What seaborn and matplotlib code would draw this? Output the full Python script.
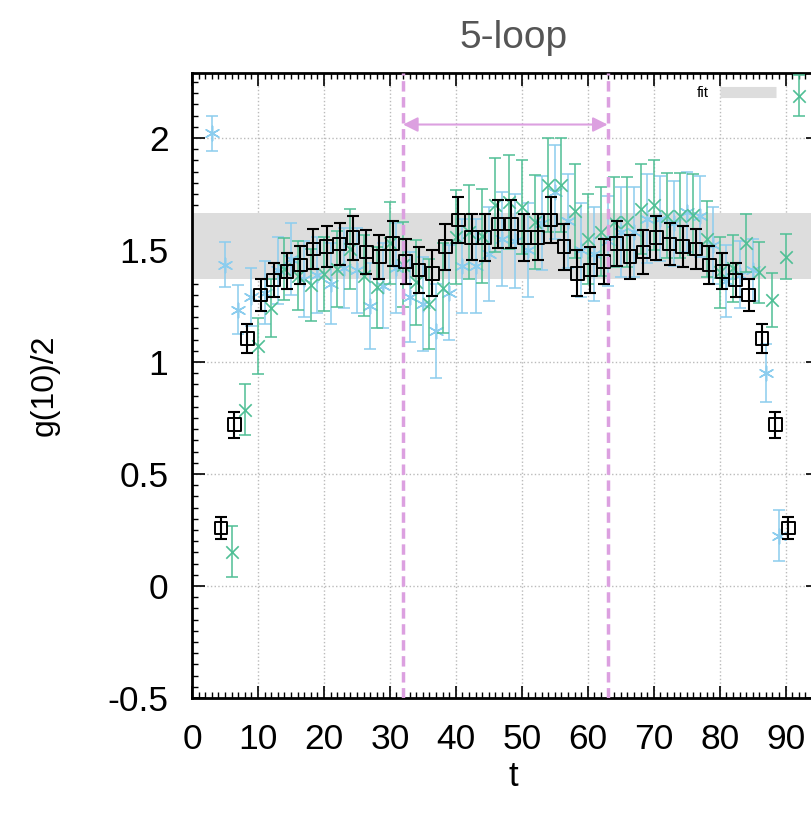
import numpy as np
import pandas as pd
import matplotlib
matplotlib.use('Agg')
import matplotlib.pyplot as plt
from matplotlib.lines import Line2D
from matplotlib.ticker import MultipleLocator
import seaborn as sns

# ---- data ----
# black squares (even t, drawn slightly shifted)
t_sq = [4.4, 6.4, 8.4, 10.4, 12.4, 14.4, 16.4, 18.4, 20.4, 22.4, 24.4,
        26.4, 28.4, 30.4, 32.4, 34.4, 36.4, 38.4, 40.4, 42.4, 44.4, 46.4,
        48.4, 50.4, 52.4, 54.4, 56.4, 58.4, 60.4, 62.4, 64.4, 66.4, 68.4,
        70.4, 72.4, 74.4, 76.4, 78.4, 80.4, 82.4, 84.4, 86.4, 88.4, 90.4]
g_sq = [0.259, 0.720, 1.106, 1.299, 1.366, 1.405, 1.433, 1.504, 1.515, 1.527, 1.555,
        1.491, 1.470, 1.530, 1.450, 1.411, 1.396, 1.515, 1.634, 1.557, 1.557, 1.616,
        1.616, 1.557, 1.557, 1.634, 1.515, 1.396, 1.411, 1.450, 1.530, 1.470, 1.491,
        1.555, 1.527, 1.515, 1.504, 1.433, 1.405, 1.366, 1.299, 1.106, 0.720, 0.259]
e_sq = [0.050, 0.058, 0.065, 0.070, 0.075, 0.080, 0.085, 0.090, 0.093, 0.093, 0.098,
        0.097, 0.098, 0.100, 0.100, 0.101, 0.102, 0.103, 0.104, 0.104, 0.105, 0.105,
        0.105, 0.105, 0.104, 0.104, 0.103, 0.102, 0.101, 0.100, 0.100, 0.098, 0.097,
        0.098, 0.093, 0.093, 0.090, 0.085, 0.080, 0.075, 0.070, 0.065, 0.058, 0.050]

# green crosses (even t)
t_gr = [6, 8, 10, 12, 14, 16, 18, 20, 22, 24, 26, 28, 30, 32, 34, 36, 38, 40, 42,
        44, 46, 48, 50, 52, 54, 56, 58, 60, 62, 64, 66, 68, 70, 72, 74, 76, 78,
        80, 82, 84, 86, 88, 90, 92]
g_gr = [0.153, 0.787, 1.073, 1.240, 1.415, 1.385, 1.344, 1.393, 1.415, 1.504, 1.385,
        1.333, 1.531, 1.434, 1.356, 1.259, 1.330, 1.557, 1.579, 1.564, 1.701, 1.713,
        1.690, 1.623, 1.790, 1.790, 1.676, 1.549, 1.582, 1.626, 1.626, 1.683, 1.702,
        1.653, 1.653, 1.658, 1.549, 1.400, 1.418, 1.531, 1.400, 1.278, 1.470, 2.189]
e_gr = [0.115, 0.115, 0.125, 0.130, 0.140, 0.155, 0.160, 0.165, 0.170, 0.180, 0.180,
        0.180, 0.185, 0.190, 0.190, 0.200, 0.200, 0.210, 0.210, 0.210, 0.210, 0.210,
        0.210, 0.210, 0.210, 0.210, 0.210, 0.200, 0.200, 0.200, 0.200, 0.200, 0.200,
        0.190, 0.190, 0.180, 0.170, 0.160, 0.150, 0.130, 0.135, 0.120, 0.100, 0.090]

# light blue asterisks (odd t)
t_bl = [3, 5, 7, 9, 11, 13, 15, 17, 19, 21, 23, 25, 27, 29, 31, 33, 35, 37, 39,
        41, 43, 45, 47, 49, 51, 53, 55, 57, 59, 61, 63, 65, 67, 69, 71, 73, 75,
        77, 79, 81, 83, 85, 87, 89]
g_bl = [2.020, 1.434, 1.233, 1.290, 1.310, 1.410, 1.460, 1.370, 1.390, 1.350, 1.420,
        1.410, 1.250, 1.340, 1.420, 1.290, 1.260, 1.140, 1.310, 1.430, 1.430, 1.480,
        1.550, 1.540, 1.500, 1.620, 1.760, 1.630, 1.500, 1.480, 1.540, 1.580, 1.580,
        1.640, 1.640, 1.620, 1.670, 1.650, 1.520, 1.360, 1.390, 1.410, 0.950, 0.225]
e_bl = [0.080, 0.100, 0.110, 0.130, 0.140, 0.150, 0.160, 0.170, 0.170, 0.180, 0.180,
        0.190, 0.190, 0.190, 0.200, 0.200, 0.210, 0.210, 0.210, 0.210, 0.210, 0.210,
        0.210, 0.210, 0.210, 0.210, 0.210, 0.210, 0.210, 0.210, 0.200, 0.200, 0.200,
        0.200, 0.190, 0.190, 0.180, 0.180, 0.170, 0.160, 0.150, 0.140, 0.130, 0.115]

fit_lo, fit_hi = 1.37, 1.665
win_start, win_end = 32, 63
arrow_y = 2.06

df_sq = pd.DataFrame({'t': t_sq, 'g': g_sq, 'err': e_sq})
df_gr = pd.DataFrame({'t': t_gr, 'g': g_gr, 'err': e_gr})
df_bl = pd.DataFrame({'t': t_bl, 'g': g_bl, 'err': e_bl})

sns.set_style('ticks')
plt.rcParams['font.family'] = ['Liberation Sans', 'DejaVu Sans']
plt.rcParams['text.color'] = 'black'
plt.rcParams['axes.labelcolor'] = 'black'
plt.rcParams['xtick.color'] = 'black'
plt.rcParams['ytick.color'] = 'black'

GREEN = '#4fbf95'
BLUE = '#8ccdee'
PLUM = '#dca0e0'

fig = plt.figure(figsize=(8.12, 8.16), dpi=100)
# right spine sits just past the image edge, as in the cropped reference
ax = fig.add_axes([192 / 812, 118 / 816, 626 / 812, 625 / 816])

ax.axhspan(fit_lo, fit_hi, color='#dddddd', lw=0, zorder=1)

# blue series
ax.errorbar(df_bl['t'], df_bl['g'], yerr=df_bl['err'], fmt='none', ecolor=BLUE,
            elinewidth=1.1, capsize=4.3, capthick=1.1, zorder=2)
sns.scatterplot(data=df_bl, x='t', y='g', marker=(6, 2, 0), s=110, color=BLUE,
                linewidth=1.1, ax=ax, zorder=3)
# green series
ax.errorbar(df_gr['t'], df_gr['g'], yerr=df_gr['err'], fmt='none', ecolor=GREEN,
            elinewidth=1.1, capsize=4.3, capthick=1.1, zorder=4)
sns.scatterplot(data=df_gr, x='t', y='g', marker='x', s=80, color=GREEN,
                linewidth=1.2, ax=ax, zorder=5)
# black series
ax.errorbar(df_sq['t'], df_sq['g'], yerr=df_sq['err'], fmt='none', ecolor='black',
            elinewidth=1.5, capsize=4.3, capthick=1.5, zorder=6)
sns.scatterplot(data=df_sq, x='t', y='g', marker='s', s=85, color='black',
                facecolor='none', edgecolor='black', linewidth=1.4, ax=ax, zorder=7)

# fit window
for xv in (win_start, win_end):
    ax.axvline(xv, color=PLUM, lw=2.5, ls=(0, (3, 1.6)), zorder=8)
ax.annotate('', xy=(win_start, arrow_y), xytext=(win_end, arrow_y),
            arrowprops=dict(arrowstyle='<|-|>', color=PLUM, lw=1.5,
                            mutation_scale=22, shrinkA=0, shrinkB=0), zorder=8)

ax.set_xlim(0, 94.9)
ax.set_ylim(-0.5, 2.29)
ax.xaxis.set_major_locator(MultipleLocator(10))
ax.xaxis.set_minor_locator(MultipleLocator(1))
ax.yaxis.set_major_locator(MultipleLocator(0.5))
ax.yaxis.set_minor_locator(MultipleLocator(0.05))
ax.set_yticks([-0.5, 0, 0.5, 1, 1.5, 2])
ax.set_yticklabels(['-0.5', '0', '0.5', '1', '1.5', '2'])
ax.tick_params(which='major', direction='in', length=9, width=1.2, top=True,
               right=True, labelsize=25.5)
ax.tick_params(axis='y', which='major', pad=17)
ax.tick_params(axis='x', which='major', pad=18)
ax.tick_params(which='minor', direction='in', length=4.5, width=1.0, top=True,
               right=True)
ax.grid(True, which='major', ls=':', color='#bbbbbb', lw=1.0)
for sp in ax.spines.values():
    sp.set_linewidth(2)
    sp.set_color('black')

ax.set_xlabel('t', fontsize=25)
ax.xaxis.set_label_coords(0.513, -0.1)
ax.set_ylabel('g(10)/2', fontsize=23)
ax.yaxis.set_label_coords(-0.212, 0.5)
ax.set_title('5-loop', fontsize=28, color='#555555', pad=18, x=0.513)

handle = Line2D([], [], color='#dddddd', lw=8, solid_capstyle='butt')
ax.legend([handle], ['fit'], loc='center right', frameon=False, fontsize=11,
          markerfirst=False, handlelength=3.7, handletextpad=0.7,
          bbox_to_anchor=(790 / 812, 723 / 816), bbox_transform=fig.transFigure)

fig.savefig('out.png', dpi=100)
